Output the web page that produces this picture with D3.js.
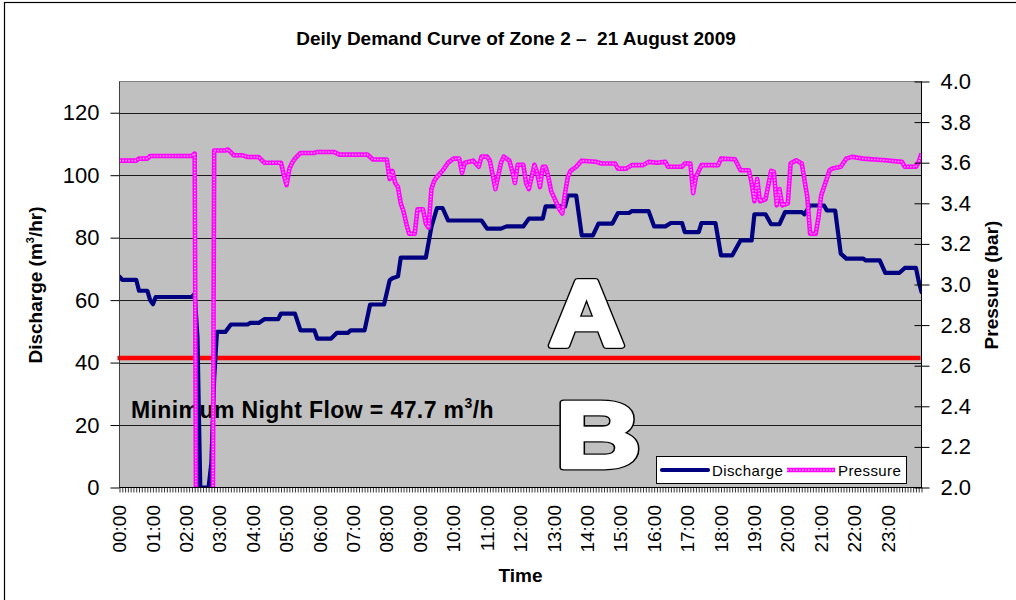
<!DOCTYPE html>
<html>
<head>
<meta charset="utf-8">
<script src="https://cdn.jsdelivr.net/npm/d3@7"></script>
<style>
  html, body { margin: 0; padding: 0; background: #fff; }
  svg { display: block; font-family: "Liberation Sans", Arial, sans-serif; }
</style>
</head>
<body>
<svg id="chart" width="1016" height="600"></svg>
<script>
// Discharge (m3/hr), [time, value] readings through the day
const discharge = [
  ["00:00",67.5],["00:05",66.5],["00:30",66.5],["00:35",63],["00:50",63],["00:55",60],
  ["01:00",58.7],["01:05",61],["02:10",61],["02:15",62],["02:20",48],["02:25",0],
  ["02:40",0],["02:45",8],["02:50",35],["02:55",49.8],["03:10",49.8],["03:20",52.2],
  ["03:50",52.2],["03:55",52.7],["04:10",52.7],["04:20",53.9],["04:45",53.9],["04:50",55.7],
  ["05:15",55.7],["05:25",50.3],["05:50",50.3],["05:55",47.7],["06:20",47.7],["06:30",49.5],
  ["06:50",49.5],["06:55",50.3],["07:20",50.3],["07:30",58.6],["07:55",58.6],["08:05",66.3],
  ["08:10",67],["08:20",67.6],["08:25",73.6],["09:10",73.6],["09:20",83.4],["09:30",89.5],
  ["09:40",89.5],["09:50",85.5],["10:50",85.5],["11:00",82.9],["11:25",82.9],["11:35",83.6],
  ["12:05",83.6],["12:15",86.1],["12:40",86.1],["12:45",90],["13:20",90],["13:25",93.5],
  ["13:40",93.5],["13:50",80.7],["14:10",80.7],["14:20",84.5],["14:45",84.5],["14:55",87.9],
  ["15:15",87.9],["15:20",88.5],["15:50",88.5],["16:00",83.6],["16:20",83.6],["16:30",84.7],
  ["16:50",84.7],["16:55",81.8],["17:20",81.8],["17:25",84.7],["17:50",84.7],["18:00",74.3],
  ["18:20",74.3],["18:35",79.1],["18:55",79.1],["19:00",87.5],["19:20",87.5],["19:30",84.3],
  ["19:45",84.3],["19:55",88.2],["20:25",88.2],["20:30",87.5],["20:40",90.3],["21:05",90.3],
  ["21:10",88.7],["21:25",88.7],["21:35",74.9],["21:45",73.3],["22:15",73.3],["22:20",72.7],
  ["22:45",72.7],["22:55",68.7],["23:20",68.7],["23:30",70.3],["23:50",70.3],["23:55",66],
  ["24:00",62.6]
];

// Pressure (bar), [time, value] readings through the day
const pressure = [
  ["00:00",3.61],["00:30",3.61],["00:35",3.62],["00:50",3.62],["00:55",3.633],["02:10",3.633],
  ["02:15",3.645],["02:20",0],["02:45",0],["02:50",3.66],["03:10",3.66],["03:15",3.665],
  ["03:25",3.637],["03:40",3.637],["03:50",3.628],["04:10",3.628],["04:20",3.60],["04:50",3.60],
  ["04:55",3.54],["05:00",3.49],["05:05",3.57],["05:10",3.60],["05:15",3.62],["05:25",3.648],
  ["05:50",3.648],["05:55",3.653],["06:25",3.653],["06:35",3.64],["07:25",3.64],["07:35",3.616],
  ["08:00",3.616],["08:05",3.52],["08:10",3.56],["08:15",3.50],["08:20",3.48],["08:25",3.40],
  ["08:30",3.36],["08:35",3.30],["08:40",3.25],["08:50",3.25],["08:55",3.37],["09:05",3.37],
  ["09:10",3.30],["09:15",3.28],["09:20",3.47],["09:25",3.51],["09:30",3.53],["09:40",3.56],
  ["09:50",3.60],["10:00",3.62],["10:10",3.62],["10:15",3.55],["10:20",3.60],["10:35",3.61],
  ["10:45",3.58],["10:50",3.63],["11:00",3.63],["11:05",3.61],["11:10",3.54],["11:15",3.47],
  ["11:25",3.60],["11:30",3.63],["11:40",3.61],["11:45",3.56],["11:50",3.50],["11:55",3.59],
  ["12:05",3.59],["12:10",3.50],["12:15",3.47],["12:25",3.59],["12:30",3.55],["12:35",3.48],
  ["12:40",3.58],["12:45",3.58],["12:50",3.53],["12:55",3.46],["13:05",3.40],["13:10",3.37],
  ["13:15",3.35],["13:20",3.45],["13:25",3.53],["13:30",3.56],["13:40",3.58],["13:50",3.61],
  ["14:15",3.605],["14:25",3.596],["14:50",3.596],["14:55",3.571],["15:10",3.571],["15:20",3.588],
  ["15:40",3.588],["15:50",3.604],["16:05",3.60],["16:20",3.604],["16:25",3.58],["16:50",3.58],
  ["16:55",3.596],["17:05",3.596],["17:10",3.45],["17:15",3.53],["17:25",3.588],["17:55",3.588],
  ["18:00",3.62],["18:25",3.617],["18:35",3.563],["18:50",3.563],["18:55",3.50],["19:00",3.41],
  ["19:05",3.52],["19:10",3.41],["19:20",3.42],["19:30",3.56],["19:35",3.555],["19:40",3.39],
  ["19:45",3.47],["19:50",3.39],["20:00",3.40],["20:05",3.596],["20:15",3.612],["20:25",3.596],
  ["20:35",3.43],["20:40",3.25],["20:50",3.25],["20:55",3.33],["21:00",3.44],["21:15",3.563],
  ["21:20",3.571],["21:35",3.58],["21:45",3.62],["21:55",3.629],["22:15",3.62],["22:55",3.612],
  ["23:25",3.604],["23:30",3.58],["23:50",3.58],["23:55",3.604],["24:00",3.645]
];

// Reference level drawn across the chart (m3/hr)
const thresholdLevel = 41.5;
const minNightFlow = 47.7;

// Axis labels
const hourLabels = ["00:00","01:00","02:00","03:00","04:00","05:00","06:00","07:00",
  "08:00","09:00","10:00","11:00","12:00","13:00","14:00","15:00","16:00","17:00",
  "18:00","19:00","20:00","21:00","22:00","23:00"];
const dischargeTicks = [0,20,40,60,80,100,120];
const pressureTicks = [2.0,2.2,2.4,2.6,2.8,3.0,3.2,3.4,3.6,3.8,4.0];

const toMinutes = s => { const [h, m] = s.split(":").map(Number); return h * 60 + m; };

const svg = d3.select("#chart");
const plot = { left: 119.5, right: 921.5, top: 81.5, bottom: 487.5 };

const x = d3.scaleLinear().domain([0, 1440]).range([plot.left, plot.right]);
const yL = d3.scaleLinear().domain([0, 130]).range([plot.bottom, plot.top]);
const yR = d3.scaleLinear().domain([2, 4]).range([plot.bottom, plot.top]);

// Outer frame
svg.append("rect").attr("x", 4.5).attr("y", 2.5).attr("width", 1100).attr("height", 700)
  .attr("fill", "none").attr("stroke", "#000").attr("stroke-width", 1.2);

// Title
svg.append("text").attr("x", 516).attr("y", 45).attr("text-anchor", "middle")
  .attr("font-size", 19).attr("font-weight", "bold")
  .text("Deily Demand Curve of Zone 2 \u2013  21 August 2009")
  .attr("xml:space", "preserve");

// Plot area
svg.append("rect").attr("x", plot.left).attr("y", plot.top)
  .attr("width", plot.right - plot.left).attr("height", plot.bottom - plot.top)
  .attr("fill", "#c0c0c0").attr("stroke", "#808080").attr("stroke-width", 1);

// Horizontal gridlines
svg.append("g").selectAll("line").data(dischargeTicks.filter(d => d > 0)).join("line")
  .attr("x1", plot.left).attr("x2", plot.right)
  .attr("y1", d => Math.round(yL(d)) + 0.5).attr("y2", d => Math.round(yL(d)) + 0.5)
  .attr("stroke", "#1a1a1a").attr("stroke-width", 1);

svg.append("clipPath").attr("id", "plotClip").append("rect")
  .attr("x", plot.left).attr("y", plot.top)
  .attr("width", plot.right - plot.left).attr("height", plot.bottom - plot.top);

// Threshold line
svg.append("line").attr("x1", plot.left - 2).attr("x2", plot.right - 1)
  .attr("y1", yL(thresholdLevel)).attr("y2", yL(thresholdLevel))
  .attr("stroke", "#ff0000").attr("stroke-width", 4.5);

// Annotation
const note = svg.append("text").attr("x", 131).attr("y", 418)
  .attr("font-size", 23).attr("font-weight", "bold").attr("letter-spacing", 0.4)
  .attr("xml:space", "preserve");
note.append("tspan").text(`Minimum Night Flow = ${minNightFlow} m`);
note.append("tspan").attr("font-size", 14).attr("dy", -10).text("3");
note.append("tspan").attr("dy", 10).text("/h");

// Series lines
const lineL = d3.line().x(d => x(toMinutes(d[0]))).y(d => yL(d[1]));
const lineR = d3.line().x(d => x(toMinutes(d[0]))).y(d => yR(d[1]));

const series = svg.append("g").attr("clip-path", "url(#plotClip)");
series.append("path").datum(discharge).attr("d", lineL)
  .attr("fill", "none").attr("stroke", "#000080").attr("stroke-width", 4.2)
  .attr("stroke-linejoin", "round").attr("stroke-linecap", "round");
series.append("path").datum(pressure).attr("d", lineR)
  .attr("fill", "none").attr("stroke", "#ff00ff").attr("stroke-width", 4.6)
  .attr("stroke-linejoin", "round");
series.append("path").datum(pressure).attr("d", lineR)
  .attr("fill", "none").attr("stroke", "#ff9cff").attr("stroke-width", 1.6)
  .attr("stroke-dasharray", "1.5 1.5").attr("stroke-linejoin", "round");

// Left axis
const axL = svg.append("g").attr("transform", `translate(${plot.left},0)`)
  .call(d3.axisLeft(yL).tickValues(dischargeTicks).tickSize(9).tickPadding(11).tickFormat(d3.format("d")));
axL.select(".domain").attr("stroke", "#404040").attr("d", `M0,${plot.top}V${plot.bottom}`);
axL.selectAll("text").attr("font-size", 22).attr("fill", "#000").attr("font-family", "Liberation Sans, Arial, sans-serif");

// Right axis, ticks crossing the line
const axR = svg.append("g").attr("transform", `translate(${plot.right},0)`)
  .call(d3.axisRight(yR).tickValues(pressureTicks).tickSize(8).tickPadding(11).tickFormat(d3.format(".1f")));
axR.select(".domain").attr("stroke", "#000").attr("d", `M0,${plot.top}V${plot.bottom}`);
axR.selectAll(".tick line").attr("x1", -7).attr("x2", 8);
axR.selectAll("text").attr("font-size", 22).attr("fill", "#000").attr("font-family", "Liberation Sans, Arial, sans-serif");

// Bottom axis: a tick for every 5-minute reading, labels on the hour
const axB = svg.append("g").attr("transform", `translate(0,${plot.bottom})`)
  .call(d3.axisBottom(x).tickValues(d3.range(0, 1441, 5)).tickSize(5).tickFormat(""));
axB.select(".domain").attr("stroke", "#000").attr("d", `M${plot.left},0H${plot.right}`);
axB.selectAll(".tick line").attr("stroke", "#000").attr("stroke-width", 0.8);

svg.append("g").selectAll("text").data(hourLabels).join("text")
  .attr("transform", d => `translate(${x(toMinutes(d))},505) rotate(-90)`)
  .attr("text-anchor", "end").attr("dy", "0.35em")
  .attr("font-size", 19).text(d => d);

// Axis titles
const tL = svg.append("text").attr("transform", "translate(42,285) rotate(-90)")
  .attr("text-anchor", "middle").attr("font-size", 19).attr("font-weight", "bold");
tL.append("tspan").text("Discharge (m");
tL.append("tspan").attr("font-size", 11).attr("dy", -8).text("3");
tL.append("tspan").attr("dy", 8).text("/hr)");

svg.append("text").attr("transform", "translate(998,285) rotate(-90)")
  .attr("text-anchor", "middle").attr("font-size", 19).attr("font-weight", "bold")
  .text("Pressure (bar)");

svg.append("text").attr("x", (plot.left + plot.right) / 2).attr("y", 582)
  .attr("text-anchor", "middle").attr("font-size", 19).attr("font-weight", "bold").text("Time");

// Zone letters: outlined heavy glyphs
function bigLetter(ch, tx, ty, sx) {
  const g = svg.append("g").attr("transform", `translate(${tx},${ty}) scale(${sx},1)`);
  g.append("text").attr("font-size", 92).attr("font-weight", "bold")
    .attr("fill", "#000").attr("stroke", "#000").attr("stroke-width", 7)
    .attr("stroke-linejoin", "round").text(ch);
  g.append("text").attr("font-size", 92).attr("font-weight", "bold")
    .attr("fill", "#fff").attr("stroke", "#fff").attr("stroke-width", 4.5)
    .attr("stroke-linejoin", "round").text(ch);
}
bigLetter("A", 549, 345, 1.13);
bigLetter("B", 556, 467, 1.27);

// Legend
const lg = svg.append("g");
lg.append("rect").attr("x", 656.5).attr("y", 456.5).attr("width", 250).attr("height", 27)
  .attr("fill", "#fff").attr("stroke", "#000").attr("stroke-width", 1);
lg.append("line").attr("x1", 662).attr("x2", 708).attr("y1", 470).attr("y2", 470)
  .attr("stroke", "#000080").attr("stroke-width", 4.2).attr("stroke-linecap", "round");
lg.append("text").attr("x", 712).attr("y", 475.5).attr("font-size", 15).attr("letter-spacing", 0.4).text("Discharge");
lg.append("line").attr("x1", 787).attr("x2", 835).attr("y1", 470).attr("y2", 470)
  .attr("stroke", "#ff00ff").attr("stroke-width", 4.6);
lg.append("line").attr("x1", 787).attr("x2", 835).attr("y1", 470).attr("y2", 470)
  .attr("stroke", "#ff9cff").attr("stroke-width", 1.6).attr("stroke-dasharray", "1.5 1.5");
lg.append("text").attr("x", 838).attr("y", 475.5).attr("font-size", 15).attr("letter-spacing", 0.4).text("Pressure");
</script>
</body>
</html>
